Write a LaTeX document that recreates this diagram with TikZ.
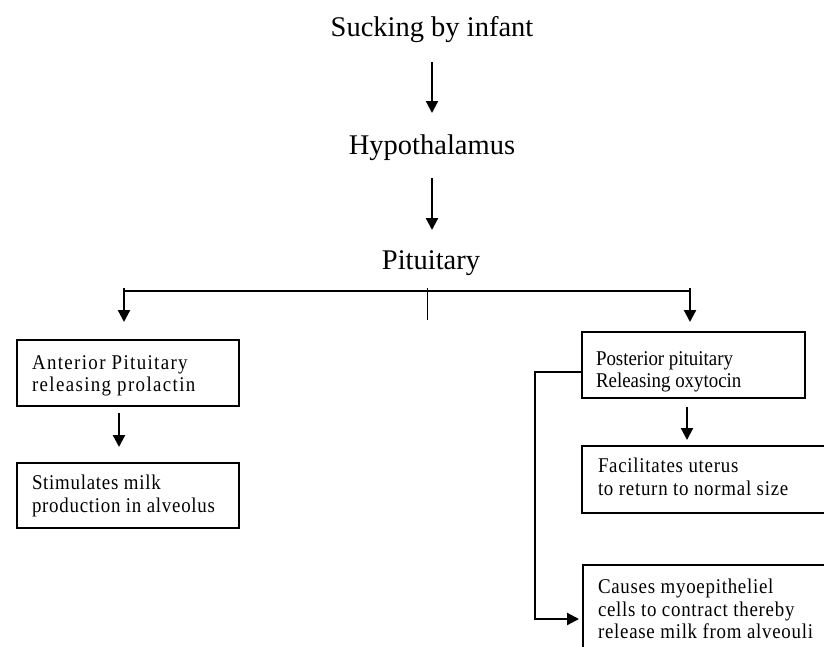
\documentclass[tikz,border=0pt]{standalone}
\usepackage{fontspec}
\setmainfont{Liberation Serif}
% narrow serif faces for the box texts, with and without tracking
\newfontfamily\narrowfont[FakeStretch=0.9]{Liberation Serif}
\newfontfamily\trackedfont[FakeStretch=0.9,LetterSpace=3.5]{Liberation Serif}
\newfontfamily\widefont[FakeStretch=0.9,LetterSpace=6.5]{Liberation Serif}
\usetikzlibrary{arrows.meta}
% fixed first-line height so the text block can be placed by its first baseline
\newcommand{\firstline}{\rule{0pt}{14pt}}
\begin{document}
\begin{tikzpicture}[x=1pt,y=-1pt,
  title/.style={inner sep=0pt, outer sep=0pt, anchor=base,
    font=\fontsize{28.5}{30}\selectfont, text height=20pt, text depth=6pt},
  box/.style={draw, line width=1.8pt, anchor=north west, outer sep=0pt, inner sep=0pt},
  txt/.style={anchor=north west, inner sep=0pt, outer sep=0pt, align=left},
  plain/.style={font=\fontsize{21}{22}\narrowfont},
  tracked/.style={font=\fontsize{21}{22.5}\trackedfont},
  wide/.style={font=\fontsize{21}{22}\widefont},
  arr/.style={line width=2.2pt, -{Triangle[width=12pt,length=12pt]}},
  bus/.style={line width=2pt},
  tick/.style={line width=1pt},
]
\useasboundingbox (0,0) rectangle (824,646);
\clip (0,0) rectangle (824,646);

% central chain
\node[title] (suck) at (432,36) {Sucking by infant};
\node[title] (hypo) at (432,154) {Hypothalamus};
\node[title] (pit)  at (431,269) {Pituitary};

% boxes
\node[box, minimum width=222pt, minimum height=66pt] (ant)   at (17,340) {};
\node[box, minimum width=222pt, minimum height=65pt] (stim)  at (17,463) {};
\node[box, minimum width=223pt, minimum height=66pt] (post)  at (582,332) {};
\node[box, minimum width=260pt, minimum height=67pt] (facil) at (582,446) {};
\node[box, minimum width=260pt, minimum height=95pt] (cause) at (583,565) {};

% box texts, placed by their first baseline
\node[txt, wide] (ant-t) at ([xshift=15pt,yshift=-15pt]ant.north west)
  {\firstline Anterior Pituitary\\releasing prolactin};
\node[txt, tracked] (stim-t) at ([xshift=15pt,yshift=-12pt]stim.north west)
  {\firstline Stimulates milk\\production in alveolus};
\node[txt, plain] (post-t) at ([xshift=14pt,yshift=-19pt]post.north west)
  {\firstline Posterior pituitary\\Releasing oxytocin};
\node[txt, tracked] (facil-t) at ([xshift=16pt,yshift=-12pt]facil.north west)
  {\firstline Facilitates uterus\\to return to normal size};
\node[txt, tracked] (cause-t) at ([xshift=15pt,yshift=-14pt]cause.north west)
  {\firstline Causes myoepitheliel\\cells to contract thereby\\release milk from alveouli};

% arrows down the chain
\draw[arr] ([yshift=-20pt]suck.south) -- ([yshift=21pt]hypo.north);
\draw[arr] ([yshift=-18pt]hypo.south) -- ([yshift=19pt]pit.north -| hypo.south);

% split below the pituitary
\coordinate (split) at ([xshift=-4pt,yshift=-14pt]pit.south);
\draw[tick] ([yshift=1pt]split) -- ++(0,32);
\draw[bus] ([yshift=-2pt]split) -| ([xshift=-4pt,yshift=51pt]ant.north);
\draw[bus] ([yshift=-2pt]split) -| ([xshift=-3.5pt,yshift=43pt]post.north);
\draw[arr] ([xshift=-4pt,yshift=52pt]ant.north) -- ([xshift=-4pt,yshift=18pt]ant.north);
\draw[arr] ([xshift=-3.5pt,yshift=44pt]post.north) -- ([xshift=-3.5pt,yshift=10pt]post.north);

% arrows out of the hormone boxes
\draw[arr] ([xshift=-9pt,yshift=-7pt]ant.south) -- ([xshift=-9pt,yshift=16pt]stim.north);
\draw[arr] ([xshift=-6.5pt,yshift=-9pt]post.south) coordinate (p1)
  -- ([yshift=6pt]p1 |- facil.north);
\draw[arr] ([yshift=-7pt]post.west) -- ++(-47,0)
  |- ([xshift=-4pt,yshift=-6.5pt]cause.west);
\end{tikzpicture}
\end{document}
